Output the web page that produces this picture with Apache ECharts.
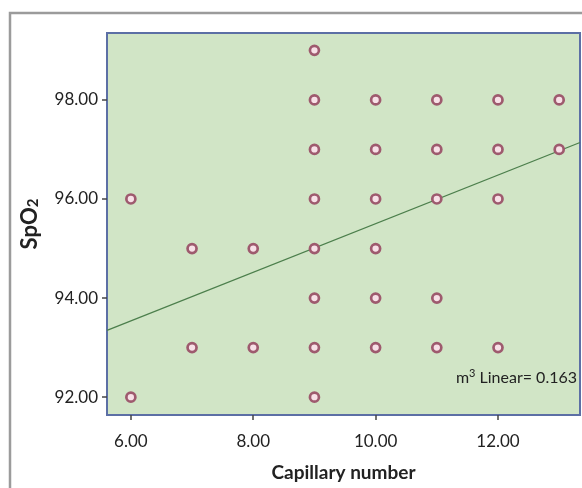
<!DOCTYPE html>
<html><head><meta charset="utf-8">
<script src="https://cdn.jsdelivr.net/npm/echarts@6/dist/echarts.min.js"></script>
<style>html,body{margin:0;padding:0;background:#fff}#c{width:582px;height:488px}</style>
</head><body><div id="c"></div>
<script>
// Data
const capillaryX = [6,6, 7,7, 8,8, 9,9,9,9,9,9,9,9, 10,10,10,10,10,10, 11,11,11,11,11, 12,12,12,12, 13,13];
const spo2Y      = [96,92, 95,93, 95,93, 99,98,97,96,95,94,93,92, 98,97,96,95,94,93, 98,97,96,94,93, 98,97,96,93, 98,97];
const fitX = [5.61, 13.34];
const fitY = [93.35, 97.14];
const xTicks = [6, 8, 10, 12];
const yTicks = [92, 94, 96, 98];
const xRange = [5.61, 13.34];
const yRange = [91.64, 99.35];
const rSquared = '0.163';

const points = capillaryX.map((x, i) => [x, spo2Y[i]]);
const fitLine = fitX.map((x, i) => [x, fitY[i]]);
const FONT = 'Lato';

const chart = echarts.init(document.getElementById('c'));
chart.setOption({
  animation: false,
  backgroundColor: '#ffffff',
  graphic: [
    { type: 'rect', z: -10, shape: { x: 10, y: 13, width: 700, height: 600 },
      style: { fill: 'none', stroke: '#9b9b9b', lineWidth: 2.5 } },
    { type: 'text', z: 100, right: 5, top: 368,
      style: { text: '{n|m}{sup|3}{n| Linear= ' + rSquared + '}',
        rich: { n: { fontFamily: FONT, fontSize: 16, fill: '#222' },
                sup: { fontFamily: FONT, fontSize: 11, fill: '#222', verticalAlign: 'top', padding: [0, 0, 8, 0] } } } }
  ],
  grid: { left: 107, top: 33, right: 2, bottom: 73, show: true, outerBoundsMode: 'none', containLabel: false,
    backgroundColor: '#d1e5c6', borderColor: '#5c6fa5', borderWidth: 2 },
  xAxis: {
    type: 'value', min: xRange[0], max: xRange[1],
    name: 'Capillary number', nameLocation: 'middle', nameGap: 48,
    nameTextStyle: { fontFamily: FONT, fontSize: 19, fontWeight: 'bold', color: '#222' },
    axisLine: { show: false },
    axisTick: { show: true, length: 5, customValues: xTicks, lineStyle: { color: '#444', width: 1.5 } },
    axisLabel: { customValues: xTicks, margin: 18, fontFamily: FONT, fontSize: 17, color: '#222',
      formatter: v => v.toFixed(2) },
    splitLine: { show: false }
  },
  yAxis: {
    type: 'value', min: yRange[0], max: yRange[1],
    name: '{a|SpO}{b|2}', nameLocation: 'middle', nameGap: 66, nameRotate: 90,
    nameTextStyle: { rich: {
      a: { fontFamily: FONT, fontSize: 22, fontWeight: 'bold', color: '#222' },
      b: { fontFamily: FONT, fontSize: 15, fontWeight: 'bold', color: '#222', verticalAlign: 'bottom', padding: [8, 0, 0, 0] } } },
    axisLine: { show: false },
    axisTick: { show: true, length: 5, customValues: yTicks, lineStyle: { color: '#444', width: 1.5 } },
    axisLabel: { customValues: yTicks, margin: 9, fontFamily: FONT, fontSize: 17, color: '#222',
      formatter: v => v.toFixed(2) },
    splitLine: { show: false }
  },
  series: [
    { type: 'line', data: fitLine, symbol: 'none', z: 3,
      lineStyle: { color: '#4c7f4c', width: 1.3 } },
    { type: 'scatter', data: points, symbol: 'circle', symbolSize: 9, z: 4,
      itemStyle: { color: '#f8e0e7', borderColor: '#9e5a6e', borderWidth: 2.7, opacity: 1 } }
  ]
});
</script></body></html>
